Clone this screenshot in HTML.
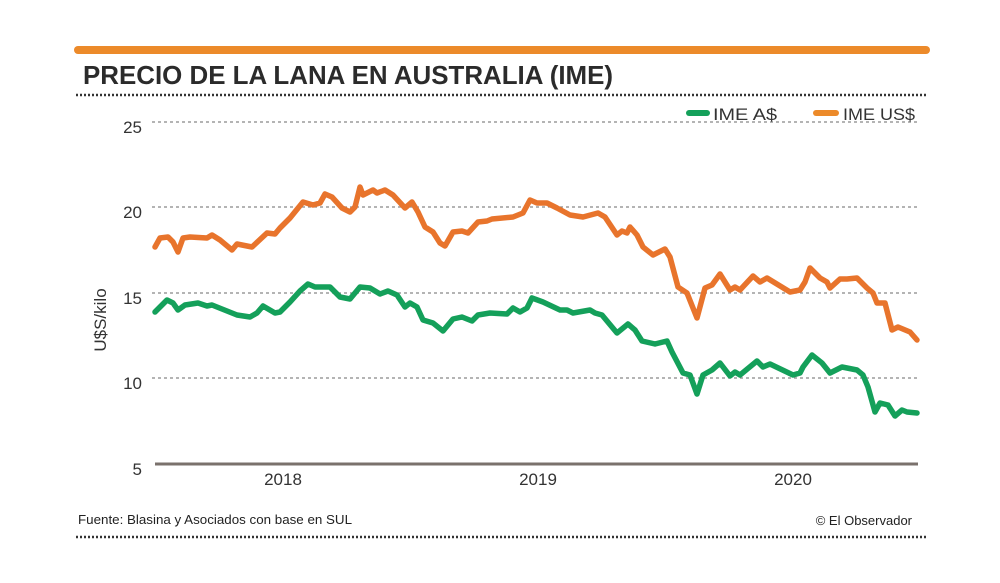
<!DOCTYPE html>
<html><head><meta charset="utf-8"><style>
html,body{margin:0;padding:0;background:#fff;}
svg{display:block;font-family:"Liberation Sans",sans-serif;}
</style></head><body>
<svg width="1000" height="583" viewBox="0 0 1000 583">
<line x1="78" y1="50" x2="926" y2="50" stroke="#ec8a2a" stroke-width="8" stroke-linecap="round"/>
<text x="83" y="84" font-size="26" font-weight="bold" fill="#2b2b2b" textLength="530" lengthAdjust="spacingAndGlyphs">PRECIO DE LA LANA EN AUSTRALIA (IME)</text>
<line x1="76" y1="95" x2="928" y2="95" stroke="#333" stroke-width="2.5" stroke-dasharray="2,2"/>
<g stroke="#888" stroke-width="1.2" stroke-dasharray="3,3">
<line x1="152" y1="122" x2="918" y2="122"/>
<line x1="152" y1="207" x2="918" y2="207"/>
<line x1="152" y1="293" x2="918" y2="293"/>
<line x1="152" y1="378" x2="918" y2="378"/>
</g>
<line x1="155" y1="464" x2="918" y2="464" stroke="#7a716c" stroke-width="3"/>
<g font-size="17" fill="#333" text-anchor="end">
<text x="142" y="133">25</text><text x="142" y="218">20</text><text x="142" y="304">15</text><text x="142" y="389">10</text><text x="142" y="475">5</text>
</g>
<g font-size="17" fill="#333" text-anchor="middle">
<text x="283" y="485">2018</text><text x="538" y="485">2019</text><text x="793" y="485">2020</text>
</g>
<text transform="translate(106,320) rotate(-90)" font-size="17" fill="#333" text-anchor="middle">U$S/kilo</text>
<line x1="689" y1="113" x2="707" y2="113" stroke="#14a05a" stroke-width="6" stroke-linecap="round"/>
<text x="713" y="120" font-size="17" fill="#333" textLength="64" lengthAdjust="spacingAndGlyphs">IME A$</text>
<line x1="816" y1="113" x2="836" y2="113" stroke="#ec8a2a" stroke-width="6" stroke-linecap="round"/>
<text x="843" y="120" font-size="17" fill="#333" textLength="72" lengthAdjust="spacingAndGlyphs">IME US$</text>
<g fill="none" stroke-width="5.5" stroke-linejoin="round" stroke-linecap="round">
<polyline stroke="#e8742c" points="155,247 160,238 168,237 173,242 178,252 183,238 190,237 207,238 212,235 220,240 232,250 237,244 252,247 267,233 275,234 280,228 290,218 303,202 313,205 320,203 325,194 332,197 342,208 350,212 355,207 360,187 363,195 373,190 377,193 385,190 393,195 405,208 412,202 418,212 425,227 433,232 440,243 445,246 453,232 462,231 468,233 478,222 487,221 492,219 513,217 523,213 530,200 537,203 547,203 557,208 570,215 583,217 598,213 605,217 617,235 622,231 627,233 630,227 637,235 643,247 653,255 665,249 670,257 678,287 687,293 697,318 705,288 712,285 720,274 730,290 735,287 740,290 753,276 760,282 767,278 790,292 800,290 805,282 810,268 820,278 827,282 830,288 840,279 847,279 857,278 867,288 873,293 877,303 885,303 892,330 898,327 910,332 917,340"/>
<polyline stroke="#14a05a" points="155,312 167,300 173,303 178,310 185,305 198,303 207,306 212,305 237,315 250,317 257,313 263,306 275,313 280,312 290,302 300,291 308,284 315,287 330,287 340,297 350,299 360,287 370,288 380,294 388,291 397,295 405,307 410,303 417,307 423,320 433,323 443,331 453,319 462,317 472,321 478,315 490,313 507,314 513,308 520,312 527,308 532,298 543,302 560,310 567,310 573,313 590,310 595,313 602,315 617,333 628,324 635,330 642,341 655,344 667,341 672,352 683,373 690,375 697,394 703,375 712,370 720,363 730,376 735,372 740,375 757,361 763,367 770,364 793,375 800,373 803,367 812,355 822,363 830,373 842,367 857,370 863,375 868,387 875,412 880,403 888,405 895,416 902,410 907,412 917,413"/>
</g>
<text x="78" y="524" font-size="13" fill="#222" textLength="274" lengthAdjust="spacingAndGlyphs">Fuente: Blasina y Asociados con base en SUL</text>
<text x="912" y="525" font-size="13" fill="#222" text-anchor="end">© El Observador</text>
<line x1="76" y1="537" x2="928" y2="537" stroke="#333" stroke-width="2.5" stroke-dasharray="2,2"/>
</svg>
</body></html>
